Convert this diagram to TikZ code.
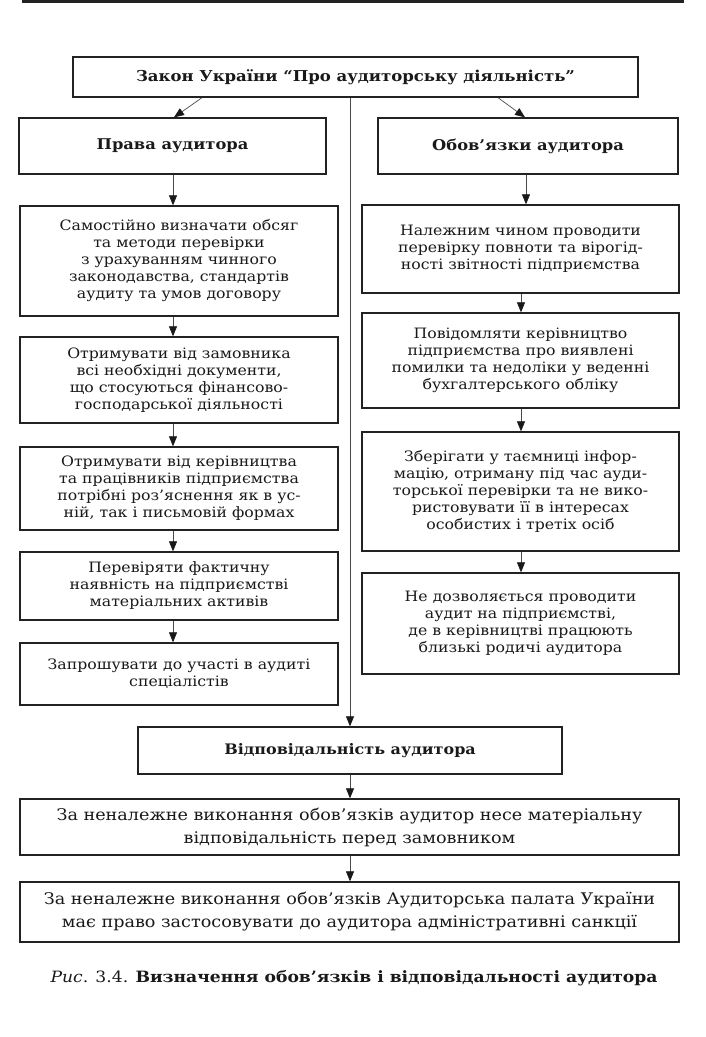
\documentclass[tikz,border=0pt]{standalone}
\usepackage{fontspec}
\setmainfont{DejaVu Serif}[FakeStretch=1.1]
\usetikzlibrary{arrows.meta}
\definecolor{ink}{HTML}{222222}
\definecolor{wire}{HTML}{4A4A4A}
\begin{document}
\begin{tikzpicture}[x=1pt,y=-1pt,
  box/.style={draw=ink,line width=1.3pt,rectangle,inner sep=0pt,align=center,
    text=black!90,font=\fontsize{14.3}{17}\selectfont},
  headbox/.style={box,font=\fontsize{14.8}{17}\selectfont\bfseries},
  widebox/.style={box,font=\fontsize{16}{23}\selectfont},
  arr/.style={draw=wire,line width=0.7pt,-{Triangle[width=8pt,length=10pt,color=black!90]}}]
\useasboundingbox (0,0) rectangle (705,1037);
% page rule
\coordinate (ruleA) at (22,1);
\coordinate (ruleB) at (684,1);
\draw[ink,line width=3pt] (ruleA) -- (ruleB);
% top
\node[headbox,font=\fontsize{15}{17}\selectfont\bfseries,minimum width=565pt,minimum height=40pt] (law) at (355.5,77)
  {Закон України “Про аудиторську діяльність”};
\node[headbox,minimum width=307pt,minimum height=56pt] (rights) at (172.5,146)
  {Права аудитора};
\node[headbox,minimum width=300pt,minimum height=56pt] (duties) at (528,146)
  {Обов’язки аудитора};
% left column
\node[box,minimum width=318pt,minimum height=110pt] (l1) at (179,261)
  {Самостійно визначати обсяг\\та методи перевірки\\з урахуванням чинного\\законодавства, стандартів\\аудиту та умов договору};
\node[box,minimum width=318pt,minimum height=86pt] (l2) at (179,380)
  {Отримувати від замовника\\всі необхідні документи,\\що стосуються фінансово-\\господарської діяльності};
\node[box,minimum width=318pt,minimum height=83pt] (l3) at (179,488.5)
  {Отримувати від керівництва\\та працівників підприємства\\потрібні роз’яснення як в ус-\\ній, так і письмовій формах};
\node[box,minimum width=318pt,minimum height=68pt] (l4) at (179,586)
  {Перевіряти фактичну\\наявність на підприємстві\\матеріальних активів};
\node[box,minimum width=318pt,minimum height=62pt] (l5) at (179,674)
  {Запрошувати до участі в аудиті\\спеціалістів};
% right column
\node[box,minimum width=317pt,minimum height=88pt] (r1) at (520.5,249)
  {Належним чином проводити\\перевірку повноти та вірогід-\\ності звітності підприємства};
\node[box,minimum width=317pt,minimum height=95pt] (r2) at (520.5,360.5)
  {Повідомляти керівництво\\підприємства про виявлені\\помилки та недоліки у веденні\\бухгалтерського обліку};
\node[box,minimum width=317pt,minimum height=119pt] (r3) at (520.5,491.5)
  {Зберігати у таємниці інфор-\\мацію, отриману під час ауди-\\торської перевірки та не вико-\\ристовувати її в інтересах\\особистих і третіх осіб};
\node[box,minimum width=317pt,minimum height=101pt] (r4) at (520.5,623.5)
  {Не дозволяється проводити\\аудит на підприємстві,\\де в керівництві працюють\\близькі родичі аудитора};
% bottom
\node[headbox,font=\fontsize{14.5}{17}\selectfont\bfseries,minimum width=424pt,minimum height=47pt] (resp) at (350,750.5)
  {Відповідальність аудитора};
\node[widebox,minimum width=659pt,minimum height=56pt] (b1) at (349.5,827)
  {За неналежне виконання обов’язків аудитор несе матеріальну\\відповідальність перед замовником};
\node[widebox,minimum width=659pt,minimum height=60pt] (b2) at (349.5,912)
  {За неналежне виконання обов’язків Аудиторська палата України\\має право застосовувати до аудитора адміністративні санкції};
\node[text=black!90,font=\fontsize{15.6}{18}\selectfont] (cap) at (354,978)
  {\textit{Рис}. 3.4. \textbf{Визначення обов’язків і відповідальності аудитора}};
% connector x positions
\coordinate (dl) at (202,0);
\coordinate (tl) at (174,0);
\coordinate (dr) at (498,0);
\coordinate (tr) at (525,0);
\coordinate (xl) at (173,0);
\coordinate (xr0) at (526,0);
\coordinate (xr) at (521,0);
\coordinate (xm) at (350,0);
% connectors
\draw[arr] (law.south -| dl) -- (rights.north -| tl);
\draw[arr] (law.south -| dr) -- (duties.north -| tr);
\draw[arr] (law.south -| xm) -- (resp.north -| xm);
\draw[arr] (rights.south -| xl) -- (l1.north -| xl);
\draw[arr] (l1.south -| xl) -- (l2.north -| xl);
\draw[arr] (l2.south -| xl) -- (l3.north -| xl);
\draw[arr] (l3.south -| xl) -- (l4.north -| xl);
\draw[arr] (l4.south -| xl) -- (l5.north -| xl);
\draw[arr] (duties.south -| xr0) -- (r1.north -| xr0);
\draw[arr] (r1.south -| xr) -- (r2.north -| xr);
\draw[arr] (r2.south -| xr) -- (r3.north -| xr);
\draw[arr] (r3.south -| xr) -- (r4.north -| xr);
\draw[arr] (resp.south -| xm) -- (b1.north -| xm);
\draw[arr] (b1.south -| xm) -- (b2.north -| xm);
\end{tikzpicture}
\end{document}
